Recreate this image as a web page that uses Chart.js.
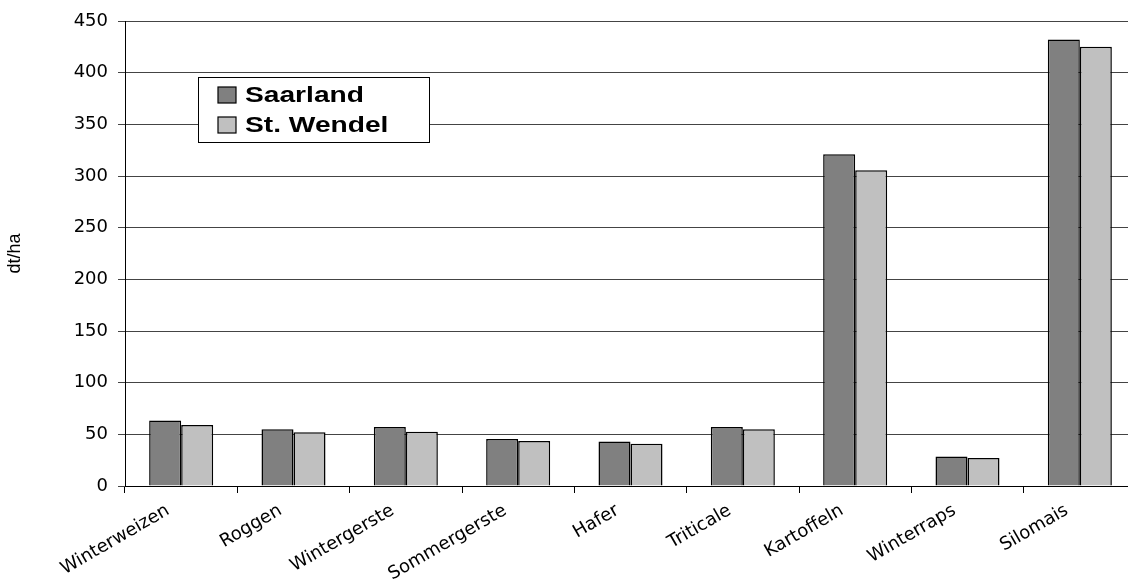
<!DOCTYPE html>
<html><head><meta charset="utf-8">
<script src="https://cdn.jsdelivr.net/npm/chart.js@4/dist/chart.umd.min.js"></script>
<style>html,body{margin:0;padding:0;background:#fff;overflow:hidden}#wrap{width:1140px;height:579px;position:relative}</style>
</head><body><div id="wrap"><canvas id="c" width="1140" height="579"></canvas></div>
<script>
const categories = ['Winterweizen','Roggen','Wintergerste','Sommergerste','Hafer','Triticale','Kartoffeln','Winterraps','Silomais'];
const saarland = [63.5, 55, 57, 45.5, 43, 57, 321, 28.5, 432];
const stWendel = [59, 52, 52.5, 43.5, 41, 55, 305.5, 27, 425];
const seriesLabels = ['Saarland', 'St. Wendel'];
const seriesColors = ['#808080', '#C0C0C0'];
const yAxisTitle = 'dt/ha';
const yMin = 0, yMax = 450, yStep = 50;

const tickFont = { family: '"DejaVu Sans", "Liberation Sans", Arial, sans-serif', size: 18 };

const legendBox = {
  id: 'legendBox',
  afterDraw(chart) {
    const ctx = chart.ctx;
    ctx.save();
    const x0 = 198, y0 = 77, w = 231, h = 65;
    ctx.fillStyle = '#fff';
    ctx.fillRect(x0, y0, w, h);
    ctx.strokeStyle = '#000';
    ctx.lineWidth = 1;
    ctx.strokeRect(x0 + 0.5, y0 + 0.5, w, h);
    chart.data.datasets.forEach((ds, i) => {
      const cy = y0 + 18 + i * 30;
      ctx.fillStyle = ds.backgroundColor;
      ctx.fillRect(218, cy - 8, 18, 16);
      ctx.strokeStyle = '#000';
      ctx.lineWidth = 1.2;
      ctx.strokeRect(218, cy - 8, 18, 16);
      ctx.save();
      ctx.translate(245, cy);
      ctx.scale(1.28, 1);
      ctx.fillStyle = '#000';
      ctx.font = 'bold 22px "Liberation Sans", Arial, sans-serif';
      ctx.textBaseline = 'middle';
      ctx.textAlign = 'left';
      ctx.fillText(ds.label, 0, 1);
      ctx.restore();
    });
    ctx.restore();
  }
};

new Chart(document.getElementById('c'), {
  type: 'bar',
  data: {
    labels: categories,
    datasets: [
      { label: seriesLabels[0], data: saarland, backgroundColor: seriesColors[0], borderColor: '#000', borderWidth: 1.5 },
      { label: seriesLabels[1], data: stWendel, backgroundColor: seriesColors[1], borderColor: '#000', borderWidth: 1.5 }
    ]
  },
  options: {
    responsive: false,
    animation: false,
    layout: { padding: { top: 21, right: 4, left: 0, bottom: 0 } },
    datasets: { bar: { categoryPercentage: 0.57, barPercentage: 1.0 } },
    plugins: { legend: { display: false }, tooltip: { enabled: false } },
    scales: {
      x: {
        afterFit(s) { s.height = 93; },
        grid: { display: true, drawOnChartArea: false, offset: true, tickLength: 7, color: '#000' },
        border: { color: '#000', width: 1 },
        ticks: { color: '#000', maxRotation: 30, minRotation: 30, padding: 7, labelOffset: -13, font: tickFont }
      },
      y: {
        min: yMin, max: yMax,
        afterFit(s) { s.width = 125; },
        grid: { color: '#444', lineWidth: 1, tickLength: 7 },
        border: { color: '#000', width: 1 },
        ticks: { stepSize: yStep, color: '#000', padding: 10, font: tickFont },
        title: { display: true, text: yAxisTitle, color: '#000', padding: { top: 4, bottom: 0 },
          font: { family: '"Liberation Sans", Arial, sans-serif', size: 18 } }
      }
    }
  },
  plugins: [legendBox]
});
</script>
</body></html>
